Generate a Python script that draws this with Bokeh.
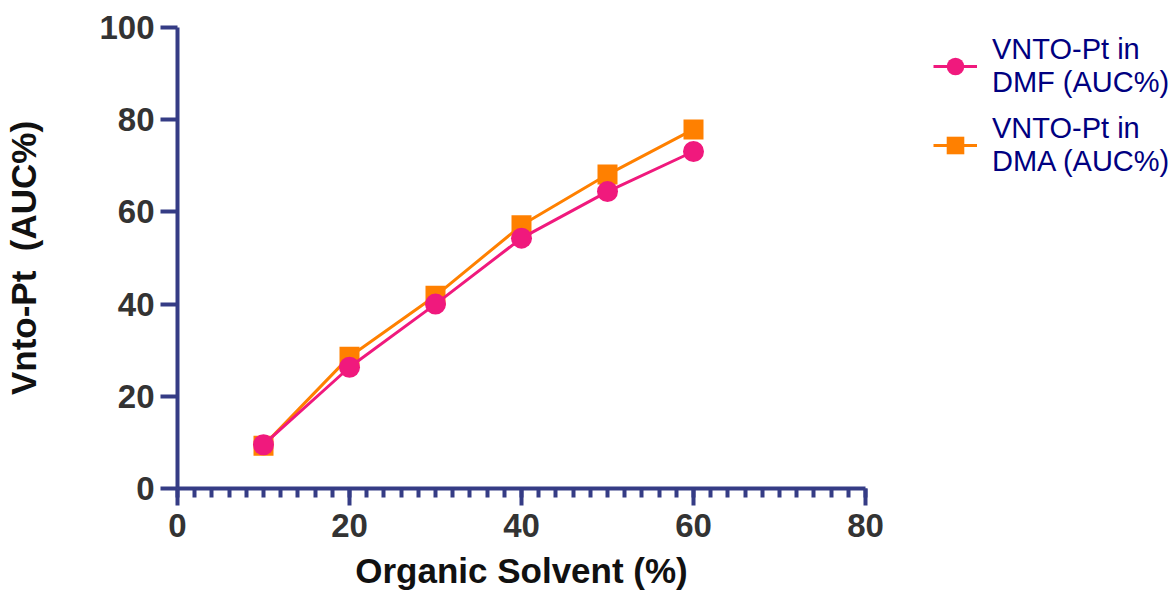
from bokeh.plotting import figure
from bokeh.models import Range1d, SingleIntervalTicker, Legend, LegendItem, ColumnDataSource, Title
from bokeh.embed import file_html
from bokeh.resources import INLINE

solvent_pct = [10, 20, 30, 40, 50, 60]
dmf_auc = [9.5, 26.3, 40.0, 54.3, 64.4, 73.1]
dma_auc = [9.3, 28.6, 41.8, 57.1, 68.1, 77.9]
x_ticks = [0, 20, 40, 60, 80]
y_ticks = [0, 20, 40, 60, 80, 100]
x_title = "Organic Solvent (%)"
y_title = "Vnto-Pt\u00a0 (AUC%)"

AXIS = "#353C85"
PINK = "#F0197D"
ORANGE = "#FF8000"
FONT = "Liberation Sans"

W, H = 1174, 599
LEFT, TOP, BOTTOM = 177, 27, 110
AXIS_PX = 688  # pixel length of the 0..80 x axis
x_max = x_ticks[-1]
x_end = x_max * (W - LEFT) / AXIS_PX

p = figure(width=W, height=H, output_backend="svg", toolbar_location=None,
           x_range=Range1d(0, x_end), y_range=Range1d(0, 100),
           min_border_left=LEFT, min_border_right=0, min_border_top=TOP, min_border_bottom=BOTTOM)
p.outline_line_color = None
p.xgrid.grid_line_color = None
p.ygrid.grid_line_color = None
p.background_fill_color = "white"
p.border_fill_color = "white"

src_dmf = ColumnDataSource(dict(x=solvent_pct, y=dmf_auc))
src_dma = ColumnDataSource(dict(x=solvent_pct, y=dma_auc))

l2 = p.line("x", "y", source=src_dma, line_color=ORANGE, line_width=3)
m2 = p.scatter("x", "y", source=src_dma, marker="square", size=20, fill_color=ORANGE, line_color=ORANGE, line_width=0)
l1 = p.line("x", "y", source=src_dmf, line_color=PINK, line_width=3)
m1 = p.scatter("x", "y", source=src_dmf, marker="circle", size=21, fill_color=PINK, line_color=PINK, line_width=0)

xa = p.xaxis[0]
xa.ticker = SingleIntervalTicker(interval=20, num_minor_ticks=10)
xa.bounds = (0, x_max)
ya = p.yaxis[0]
ya.ticker = SingleIntervalTicker(interval=20, num_minor_ticks=0)

for ax in (xa, ya):
    ax.axis_line_color = AXIS
    ax.axis_line_width = 4
    ax.major_tick_line_color = AXIS
    ax.major_tick_line_width = 4
    ax.major_tick_out = 17
    ax.major_tick_in = 0
    ax.minor_tick_line_color = AXIS
    ax.minor_tick_line_width = 4
    ax.minor_tick_out = 9
    ax.minor_tick_in = 0
    ax.major_label_text_font = FONT
    ax.major_label_text_font_style = "bold"
    ax.major_label_text_font_size = "33px"
    ax.major_label_text_color = "#333333"
    ax.axis_label_text_font = FONT
    ax.axis_label_text_font_style = "bold"
    ax.axis_label_text_font_size = "35px"
    ax.axis_label_text_color = "#111111"
ya.minor_tick_line_color = None
xa.major_label_standoff = 8
ya.major_label_standoff = 6
ya.axis_label = y_title
ya.axis_label_standoff = 53

# x-axis title, centred under the 0..80 axis (the frame extends further right for the legend)
title_width = 9.502 * 35  # approx. width of the bold title text
xt = Title(text=x_title, align="left", offset=AXIS_PX / 2 - title_width / 2,
           text_font=FONT, text_font_style="bold", text_font_size="35px",
           text_color="#111111", standoff=19)
p.add_layout(xt, "below")

legend = Legend(items=[
    LegendItem(label="VNTO-Pt in\nDMF (AUC%)", renderers=[l1, m1]),
    LegendItem(label="VNTO-Pt in\nDMA (AUC%)", renderers=[l2, m2]),
], location=(756, 310), orientation="vertical")
legend.border_line_color = None
legend.background_fill_alpha = 0
legend.padding = 0
legend.margin = 0
legend.spacing = 13
legend.glyph_width = 44
legend.glyph_height = 50
legend.label_standoff = 15
legend.label_text_font = FONT
legend.label_text_font_size = "29px"
legend.label_text_color = "#000080"
legend.label_text_line_height = 1.15
p.add_layout(legend, "center")

open("out.html", "w").write(file_html(p, INLINE))
